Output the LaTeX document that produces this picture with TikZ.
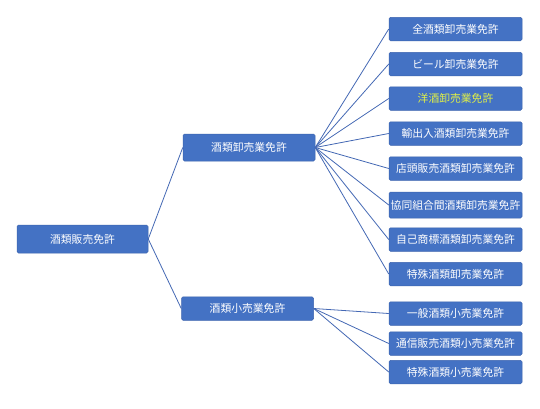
\documentclass[tikz,border=0pt]{standalone}
\usepackage{fontspec}
\newfontfamily\jp{Noto Sans CJK JP}
\definecolor{boxblue}{RGB}{68,114,196}
\definecolor{boxedge}{RGB}{60,100,175}
\definecolor{linkblue}{RGB}{68,104,180}
\definecolor{hilite}{RGB}{225,240,70}
\tikzset{
  lic/.style={draw=boxedge, line width=0.5pt, fill=boxblue, rounded corners=1.5pt,
    text=white, font=\jp\fontsize{10.8pt}{12pt}\selectfont, inner sep=0pt, anchor=center},
  rootbox/.style={lic, minimum width=131pt, minimum height=28pt},
  midbox/.style={lic, minimum width=132pt, minimum height=27pt},
  leafbox/.style={lic, minimum width=133pt, minimum height=23.5pt},
  link/.style={draw=linkblue, line width=0.8pt}
}
\begin{document}
\begin{tikzpicture}[x=1pt,y=-1pt]
\useasboundingbox[fill=white] (0,0) rectangle (540,408);
\node[rootbox] (root) at (82.5,239) {酒類販売免許};
\node[midbox] (w) at (249,147.5) {酒類卸売業免許};
\node[midbox, minimum height=23.5pt] (r) at (247.5,308.5) {酒類小売業免許};
\node[leafbox] (w1) at (455.5,29) {全酒類卸売業免許};
\node[leafbox] (w2) at (455.5,64) {ビール卸売業免許};
\node[leafbox, text=hilite] (w3) at (455.5,98.5) {洋酒卸売業免許};
\node[leafbox] (w4) at (455.5,133.5) {輸出入酒類卸売業免許};
\node[leafbox] (w5) at (455.5,168.5) {店頭販売酒類卸売業免許};
\node[leafbox, minimum height=26pt] (w6) at (455.5,205) {協同組合間酒類卸売業免許};
\node[leafbox] (w7) at (455.5,239.5) {自己商標酒類卸売業免許};
\node[leafbox] (w8) at (455.5,274) {特殊酒類卸売業免許};
\node[leafbox] (r1) at (455.5,313.5) {一般酒類小売業免許};
\node[leafbox] (r2) at (455.5,343.5) {通信販売酒類小売業免許};
\node[leafbox] (r3) at (455.5,372) {特殊酒類小売業免許};
\draw[link] (root.east) -- (w.west);
\draw[link] (root.east) -- (r.west);
\foreach \n in {w1,w2,w3,w4,w5,w6,w7,w8} { \draw[link] (w.east) -- (\n.west); }
\foreach \n in {r1,r2,r3} { \draw[link] (r.east) -- (\n.west); }
\end{tikzpicture}
\end{document}
